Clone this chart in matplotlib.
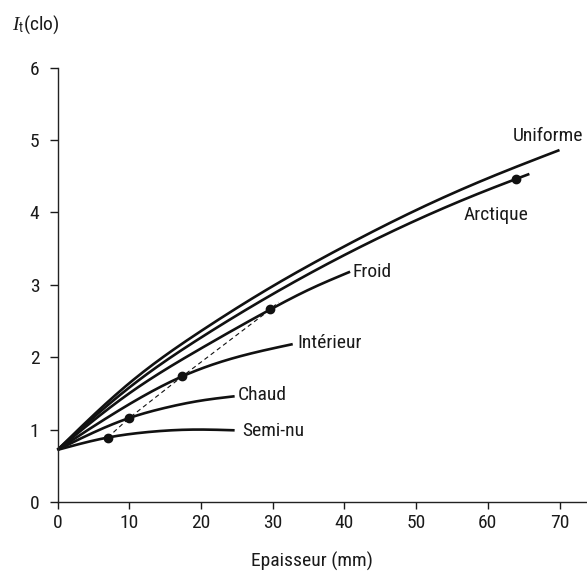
import numpy as np
import matplotlib
matplotlib.use("Agg")
import matplotlib.pyplot as plt
from matplotlib import font_manager

# ---- data ----
uniforme_x = [0, 10, 20, 30, 40, 50, 60, 70]
uniforme_y = [0.72, 1.64, 2.36, 2.98, 3.53, 4.03, 4.47, 4.86]
arctique_x = [0, 10, 20, 30, 40, 50, 60, 65.8]
arctique_y = [0.72, 1.58, 2.27, 2.87, 3.41, 3.89, 4.31, 4.53]
froid_x = [0, 10, 20, 29.7, 35, 40.8]
froid_y = [0.72, 1.50, 2.12, 2.66, 2.93, 3.18]
interieur_x = [0, 10, 17.4, 25, 32.8]
interieur_y = [0.72, 1.35, 1.735, 2.00, 2.18]
chaud_x = [0, 10, 15, 20, 24.7]
chaud_y = [0.72, 1.16, 1.30, 1.40, 1.46]
seminu_x = [0, 7, 12, 19, 24.7]
seminu_y = [0.72, 0.89, 0.96, 1.00, 0.99]

dots_x = [7, 10, 17.4, 29.7, 63.9]
dots_y = [0.89, 1.16, 1.735, 2.66, 4.46]
dashed_x = [7, 10, 17.4, 29.7, 30.8]
dashed_y = [0.89, 1.16, 1.735, 2.66, 2.76]

labels = ["Uniforme", "Arctique", "Froid", "Intérieur", "Chaud", "Semi-nu"]
label_x = [68.8, 61.2, 43.9, 37.9, 28.5, 30.05]
label_y = [5.06, 3.97, 3.18, 2.19, 1.48, 0.98]

xticks = [0, 10, 20, 30, 40, 50, 60, 70]
yticks = [0, 1, 2, 3, 4, 5, 6]
xlabel = "Epaisseur (mm)"

# ---- fonts ----
names = {f.name for f in font_manager.fontManager.ttflist}
FAM, FS = "Roboto", 14
for cand, size in [("Liberation Sans Narrow", 14), ("Roboto Condensed", 14),
                   ("Open Sans Condensed", 14), ("Arial Narrow", 14)]:
    if cand in names:
        FAM, FS = cand, size
        break
plt.rcParams["font.family"] = [FAM, "DejaVu Sans"]
plt.rcParams["mathtext.fontset"] = "custom"
plt.rcParams["mathtext.it"] = "Liberation Serif:italic"
plt.rcParams["mathtext.rm"] = FAM
TC = "#1a1a1a"


def spline(x, y, n=200):
    x = np.asarray(x, float)
    y = np.asarray(y, float)
    m = len(x)
    h = np.diff(x)
    A = np.zeros((m, m))
    b = np.zeros(m)
    A[0, 0] = A[-1, -1] = 1
    for i in range(1, m - 1):
        A[i, i - 1] = h[i - 1]
        A[i, i] = 2 * (h[i - 1] + h[i])
        A[i, i + 1] = h[i]
        b[i] = 6 * ((y[i + 1] - y[i]) / h[i] - (y[i] - y[i - 1]) / h[i - 1])
    M = np.linalg.solve(A, b)
    xs = np.linspace(x[0], x[-1], n)
    idx = np.clip(np.searchsorted(x, xs) - 1, 0, m - 2)
    x0, x1 = x[idx], x[idx + 1]
    hh = x1 - x0
    t0 = x1 - xs
    t1 = xs - x0
    ys = (M[idx] * t0 ** 3 + M[idx + 1] * t1 ** 3) / (6 * hh) \
        + (y[idx] / hh - M[idx] * hh / 6) * t0 \
        + (y[idx + 1] / hh - M[idx + 1] * hh / 6) * t1
    return xs, ys


W, H = 587, 573
fig = plt.figure(figsize=(W / 100, H / 100), dpi=100)
x0px, x70px = 57.5, 559.5
y0px, y6px = 502.0, 67.5
ux = (x70px - x0px) / 70
uy = (y0px - y6px) / 6
xmax = (W - x0px) / ux
ax = fig.add_axes([x0px / W, (H - y0px) / H, (W - x0px) / W, (y0px - y6px) / H])
ax.set_xlim(0, xmax)
ax.set_ylim(0, 6)

for xs, ys in [(uniforme_x, uniforme_y), (arctique_x, arctique_y), (froid_x, froid_y),
               (interieur_x, interieur_y), (chaud_x, chaud_y), (seminu_x, seminu_y)]:
    sx, sy = spline(xs, ys)
    ax.plot(sx, sy, color="#111111", lw=1.9, solid_capstyle="butt", clip_on=False)

ax.plot(dashed_x, dashed_y, color="#111111", lw=0.8, dashes=(4, 3))
ax.plot(dots_x, dots_y, "o", color="#111111", ms=6, zorder=5)

for t, lx, ly in zip(labels, label_x, label_y):
    if t == "Uniforme":
        ax.text((583 - x0px) / ux, ly, t, ha="right", va="center", fontsize=FS, color=TC)
    else:
        ax.text(lx, ly, t, ha="center", va="center", fontsize=FS, color=TC)

for s in ["top", "right"]:
    ax.spines[s].set_visible(False)
for s in ["left", "bottom"]:
    ax.spines[s].set_linewidth(1.0)
    ax.spines[s].set_color("#222222")
ax.set_xticks(xticks)
ax.set_yticks(yticks)
ax.tick_params(axis="x", direction="out", length=5, width=1.0, pad=3.5, labelsize=FS,
               colors=TC)
ax.tick_params(axis="y", direction="out", length=6, width=1.0, pad=7, labelsize=FS,
               colors=TC)

ax.text(35.5, -(551.7 - y0px) / uy, xlabel, ha="center", va="top", fontsize=FS, color=TC)

fig.text(12 / W, 1 - 30 / H, r"$\mathit{I}_{\mathrm{t}}$(clo)", ha="left", va="baseline",
         fontsize=FS, color=TC)

fig.savefig("out.png", dpi=100)
